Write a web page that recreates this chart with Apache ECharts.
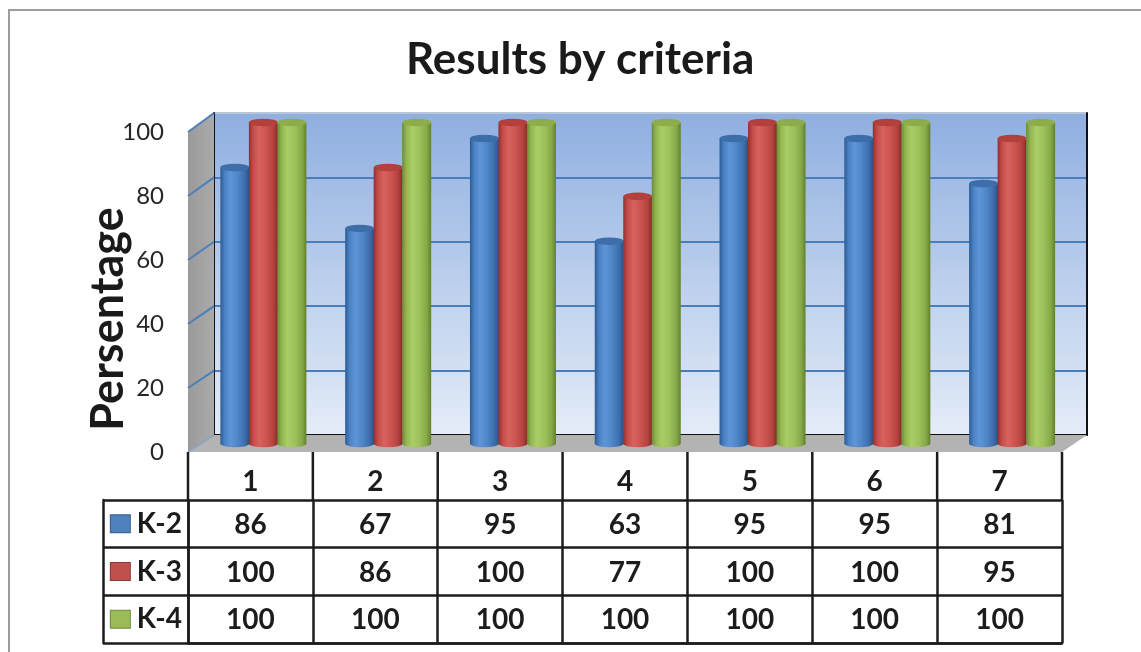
<!DOCTYPE html>
<html><head><meta charset="utf-8">
<script src="https://cdn.jsdelivr.net/npm/echarts@6/dist/echarts.min.js"></script>
<style>html,body{margin:0;padding:0;background:#fff}#c{width:1141px;height:652px}</style>
</head><body><div id="c"></div>
<script>
// ---- data ----
const categories = ['1', '2', '3', '4', '5', '6', '7'];
const seriesNames = ['K-2', 'K-3', 'K-4'];
const k2 = [86, 67, 95, 63, 95, 95, 81];
const k3 = [100, 86, 100, 77, 100, 100, 95];
const k4 = [100, 100, 100, 100, 100, 100, 100];
const yTicks = [0, 20, 40, 60, 80, 100];
const titleText = 'Results by criteria';
const yName = 'Persentage';

// ---- layout / style ----
const seriesValues = [k2, k3, k4];
const W = 1141, H = 652;
const FL = 188, BL = 214, FR = 1062, BR = 1087;
const FT = 132, BT = 113, FB = 452, BB = 435;
const TT = 500, TBOT = 643, TLEFT = 103;
const FONT = 'Lato, "Open Sans", sans-serif';
const LINE = '#1c1c1c';
const legendColors = ['#4F81BD', '#C0504D', '#9BBB59'];
const legendBorders = ['#385d8a', '#8c3836', '#71893f'];
const bodyStops = [
  ['#2c5b93', '#4a82c4', '#5d95d8', '#4f86c8', '#3b6dab', '#2a5086'],
  ['#922f2c', '#c44d4a', '#d8625e', '#cc5450', '#b2423f', '#832926'],
  ['#6c8b32', '#93b751', '#aacd65', '#9dc25b', '#86a848', '#62802d']
];
const capColors = ['#3d6ea9', '#b2413e', '#8dad4d'];
const offsets = [-28.5, 0, 28.5];
const CW = 29, RY = 3.8;

function grad(stops) {
  const pos = [0, 0.15, 0.35, 0.6, 0.85, 1];
  return new echarts.graphic.LinearGradient(0, 0, 1, 0,
    stops.map((c, i) => ({ offset: pos[i], color: c })));
}

function cylinder(s) {
  return function (params, api) {
    const i = api.value(0), v = api.value(1);
    const top = api.coord([i, v]);
    const base = api.coord([i, 0]);
    const cx = top[0] + offsets[s];
    const rx = CW / 2;
    return {
      type: 'group',
      children: [
        { type: 'circle', x: cx, y: base[1], scaleY: RY / rx, shape: { cx: 0, cy: 0, r: rx }, style: { fill: grad(bodyStops[s]) } },
        { type: 'rect', shape: { x: cx - rx, y: top[1], width: CW, height: base[1] - top[1] }, style: { fill: grad(bodyStops[s]) } },
        { type: 'circle', x: cx, y: top[1], scaleY: RY / rx, shape: { cx: 0, cy: 0, r: rx }, style: { fill: capColors[s] } }
      ]
    };
  };
}

const chart = echarts.init(document.getElementById('c'), null, { renderer: 'canvas' });

const rich = { t: { fontFamily: FONT, fontWeight: 'bold', fontSize: 28, color: LINE }, g: { width: 7 } };
seriesNames.forEach((n, i) => {
  rich['s' + i] = { width: 19, height: 17, backgroundColor: legendColors[i], borderColor: legendBorders[i], borderWidth: 1 };
});

const option = {
  animation: false,
  title: {
    text: titleText, left: 406, top: 33, padding: [5, 0, 5, 0],
    textStyle: { fontFamily: FONT, fontWeight: 'bold', fontSize: 44, color: '#1a1a1a' }
  },
  grid: [
    { left: BL, right: W - BR, top: BT, bottom: H - BB, show: true, borderWidth: 0,
      backgroundColor: new echarts.graphic.LinearGradient(0, 0, 0, 1, [
        { offset: 0, color: '#8fafe0' }, { offset: 1, color: '#e4ecf8' }]) },
    { left: FL, right: W - FR, top: FT, bottom: H - FB },
    { left: (FL + BL) / 2, right: W - (FR + BR) / 2, top: (FT + BT) / 2, bottom: H - (FB + BB) / 2 },
    { left: FL, right: W - FR, top: TT, bottom: H - TBOT }
  ],
  xAxis: [
    { gridIndex: 0, type: 'category', data: categories, axisLine: { lineStyle: { color: '#111', width: 2 } },
      axisTick: { show: false }, axisLabel: { show: false } },
    { gridIndex: 1, type: 'category', data: categories, show: false },
    { gridIndex: 2, type: 'category', data: categories, show: false },
    { gridIndex: 3, type: 'category', data: categories, position: 'top',
      axisLine: { show: true, lineStyle: { color: LINE, width: 2.5 } },
      axisTick: { show: false },
      splitLine: { show: true, lineStyle: { color: LINE, width: 2.5 } },
      axisLabel: { interval: 0, margin: 4, fontFamily: FONT, fontWeight: 'bold', fontSize: 28, color: LINE } }
  ],
  yAxis: [
    { gridIndex: 0, type: 'value', min: 0, max: 100, interval: 20,
      axisLine: { show: true, lineStyle: { color: '#111', width: 2 } }, axisTick: { show: false }, axisLabel: { show: false },
      splitLine: { show: true, lineStyle: { color: ['#4a7ebb', '#4a7ebb', '#4a7ebb', '#4a7ebb', '#4a7ebb', '#b9c6d8'], width: 2 } } },
    { gridIndex: 0, type: 'value', position: 'right', min: 0, max: 100,
      axisLine: { show: true, lineStyle: { color: '#111', width: 2 } }, axisTick: { show: false }, axisLabel: { show: false }, splitLine: { show: false } },
    { gridIndex: 1, type: 'value', min: 0, max: 100, interval: 20,
      axisLine: { show: false }, axisTick: { show: false }, splitLine: { show: false },
      axisLabel: { margin: 24, fontFamily: FONT, fontSize: 24, color: '#262626' },
      name: yName, nameLocation: 'middle', nameRotate: 90, nameGap: 57, nameMoveOverlap: false,
      nameTextStyle: { fontFamily: FONT, fontWeight: 'bold', fontSize: 45, color: '#1a1a1a', padding: [0, 54, 0, 0] } },
    { gridIndex: 2, type: 'value', min: 0, max: 100, show: false },
    { gridIndex: 3, type: 'category', data: seriesNames, inverse: true,
      axisLine: { show: true, lineStyle: { color: LINE, width: 2.5 } },
      axisTick: { show: true, length: FL - TLEFT, lineStyle: { color: LINE, width: 2.5 } },
      splitLine: { show: true, lineStyle: { color: LINE, width: 2.5 } },
      axisLabel: { interval: 0, margin: 6, formatter: (v, i) => '{s' + i + '|}{g|}{t|' + v + '}', rich: rich } },
    { gridIndex: 3, type: 'value', position: 'left', offset: FL - TLEFT, min: 0, max: 1,
      axisLine: { show: true, lineStyle: { color: LINE, width: 2.5 } }, axisTick: { show: false }, axisLabel: { show: false }, splitLine: { show: false } }
  ],
  series: seriesNames.map((n, s) => ({
    name: n, type: 'custom', xAxisIndex: 2, yAxisIndex: 3, z: 3,
    encode: { x: 0, y: 1 },
    data: categories.map((c, i) => [i, seriesValues[s][i]]),
    renderItem: cylinder(s)
  })).concat([{
    name: 'table', type: 'custom', xAxisIndex: 3, yAxisIndex: 4, z: 4,
    encode: { x: 0, y: 1 },
    data: seriesValues.flatMap((vals, r) => vals.map((v, i) => [i, r, v])),
    renderItem: function (params, api) {
      const p = api.coord([api.value(0), api.value(1)]);
      return { type: 'text', x: p[0], y: p[1] + 1,
        style: { text: String(api.value(2)), align: 'center', verticalAlign: 'middle',
          fontFamily: FONT, fontWeight: 'bold', fontSize: 28, fill: LINE } };
    }
  }])
};
chart.setOption(option);

// 3D box pieces and header-row rules derived from the axes
const yF = v => chart.convertToPixel({ yAxisIndex: 2 }, v);
const yB = v => chart.convertToPixel({ yAxisIndex: 0 }, v);
const xT = i => chart.convertToPixel({ xAxisIndex: 3 }, i);
const band = xT(1) - xT(0);
const elements = [
  { type: 'rect', z: 0, shape: { x: 9, y: 10, width: W + 20, height: H + 20 },
    style: { fill: 'transparent', stroke: '#9d9d9d', lineWidth: 2 } },
  { type: 'polygon', z: 1, shape: { points: [[FL, yF(100)], [BL, yB(100)], [BL, yB(0)], [FL, yF(0)]] },
    style: { fill: new echarts.graphic.LinearGradient(0, 0, 1, 0, [{ offset: 0, color: '#9a9a9a' }, { offset: 1, color: '#aaaaaa' }]) } },
  { type: 'polygon', z: 1, shape: { points: [[FL, yF(0)], [BL, yB(0)], [BR, yB(0)], [FR, yF(0)]] },
    style: { fill: '#b3b3b3' } }
];
yTicks.forEach(v => {
  elements.push({ type: 'line', z: 1, shape: { x1: FL, y1: yF(v), x2: BL, y2: yB(v) },
    style: { stroke: v === 0 ? '#8ea3bf' : '#4a7ebb', lineWidth: 2 } });
});
for (let k = 0; k <= categories.length; k++) {
  const x = xT(0) - band / 2 + k * band;
  elements.push({ type: 'line', z: 2, shape: { x1: x, y1: yF(0), x2: x, y2: TT },
    style: { stroke: LINE, lineWidth: 2.5 } });
}
chart.setOption({ graphic: { elements: elements } });
</script>
</body></html>
